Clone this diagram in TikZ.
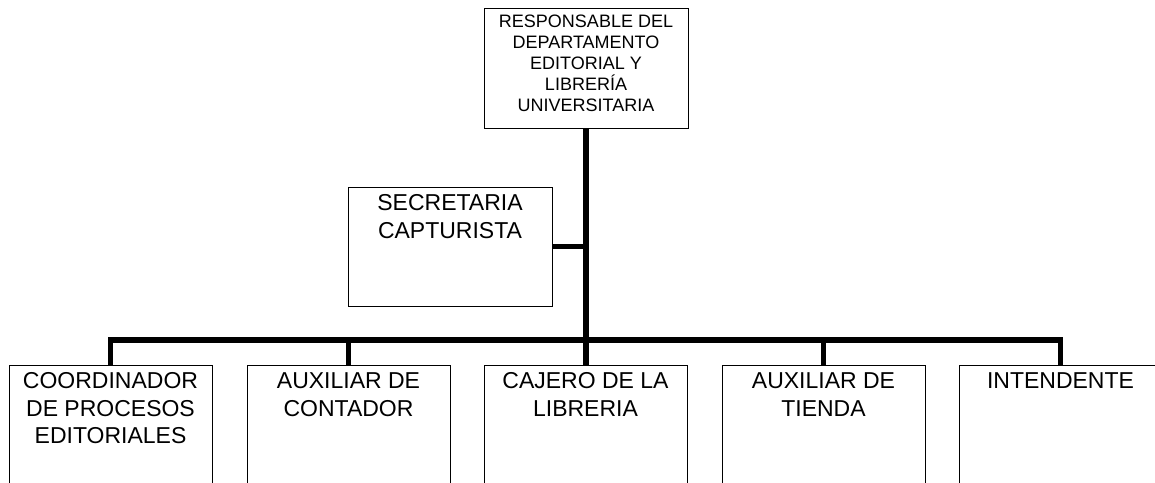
\documentclass[tikz,border=0pt]{standalone}
\usepackage{fontspec}
\setmainfont{Liberation Sans}
\begin{document}
\begin{tikzpicture}[x=1pt,y=-1pt,
  box/.style={draw=black, line width=1pt, minimum width=203pt, inner sep=0pt},
  conn/.style={line width=5.8pt, line join=miter},
  bigtxt/.style={font=\fontsize{23}{27.6}\selectfont, align=center, inner sep=0pt, anchor=north},
  smalltxt/.style={font=\fontsize{18}{21}\selectfont, align=center, inner sep=0pt, anchor=north}]
\useasboundingbox (0,0) rectangle (1155,482);
\clip (0,0) rectangle (1155,482);
% boxes
\node[box, minimum width=204pt, minimum height=120pt] (top) at (586,68) {};
\node[box, minimum width=204pt, minimum height=119pt] (sec) at (450,246.5) {};
\node[box, minimum height=140pt] (b1) at (110.5,435) {};
\node[box, minimum height=140pt] (b2) at (348.5,435) {};
\node[box, minimum height=140pt] (b3) at (585.5,435) {};
\node[box, minimum height=140pt] (b4) at (823.5,435) {};
\node[box, minimum height=140pt] (b5) at (1060.5,435) {};
% connectors
\coordinate (bar) at (586,340);
\draw[conn] (top.south) -- (top.south |- b3.north);
\draw[conn] (sec.east) -- (sec.east -| top.south);
\draw[conn] (b1.north) -- (b1.north |- bar) -- (b5.north |- bar) -- (b5.north);
\draw[conn] (b2.north) -- (b2.north |- bar);
\draw[conn] (b4.north) -- (b4.north |- bar);
% texts
\node[smalltxt] (ttop) at ([yshift=-7pt]top.north) {RESPONSABLE DEL\\DEPARTAMENTO\\EDITORIAL Y\\LIBRERÍA\\UNIVERSITARIA};
\node[bigtxt] (tsec) at ([yshift=-8pt]sec.north) {SECRETARIA\\CAPTURISTA};
\node[bigtxt] (t1) at ([yshift=-8pt]b1.north) {COORDINADOR\\DE PROCESOS\\EDITORIALES};
\node[bigtxt] (t2) at ([yshift=-8pt]b2.north) {AUXILIAR DE\\CONTADOR};
\node[bigtxt] (t3) at ([yshift=-8pt]b3.north) {CAJERO DE LA\\LIBRERIA};
\node[bigtxt] (t4) at ([yshift=-8pt]b4.north) {AUXILIAR DE\\TIENDA};
\node[bigtxt] (t5) at ([yshift=-8pt]b5.north) {INTENDENTE};
\end{tikzpicture}
\end{document}
